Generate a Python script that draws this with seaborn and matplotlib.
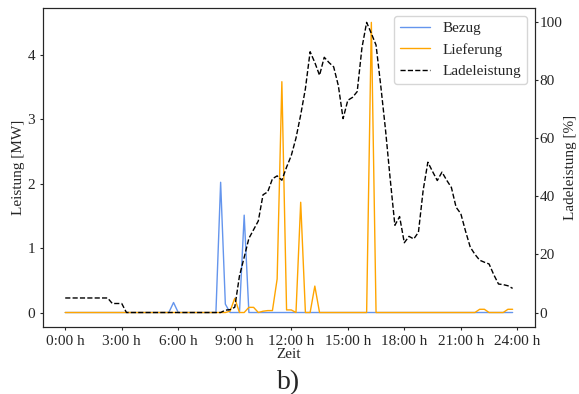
import numpy as np
import pandas as pd
import matplotlib
matplotlib.use("Agg")
import matplotlib.pyplot as plt
import seaborn as sns

# 15-min steps over one day (0:00 .. 23:45)
stunden = np.arange(96) * 0.25

# Bezug [MW]
bezug = [0.0] * 96
bezug[23] = 0.155
bezug[33] = 2.02
bezug[34] = 0.13
bezug[38] = 1.51

# Lieferung [MW]
lieferung = [0.0] * 96
lieferung_spitzen = {35: 0.02, 36: 0.22, 39: 0.08, 40: 0.08, 42: 0.02, 43: 0.03,
                     44: 0.03, 45: 0.52, 46: 3.58, 47: 0.04, 48: 0.04, 50: 1.71,
                     53: 0.41, 65: 4.5, 88: 0.05, 89: 0.05, 94: 0.05, 95: 0.05}
for k, v in lieferung_spitzen.items():
    lieferung[k] = v

# Ladeleistung [%]
ladeleistung = ([5.0] * 10 + [3.1, 3.1, 3.1] + [0.0] * 21 +
                [0.8, 1.0, 1.8, 12.6, 19.0, 25.5, 28.5, 31.5, 40.5, 41.5,
                 46.0, 47.0, 45.5, 50.0, 54.0, 60.0, 68.0, 77.0, 89.7, 86.0,
                 81.6, 87.8, 86.0, 84.5, 78.0, 66.7, 73.0, 74.0, 76.0, 91.0,
                 99.8, 96.0, 92.0, 78.0, 63.0, 46.0, 30.0, 33.0, 24.0, 26.2,
                 25.3, 27.6, 42.0, 51.7, 48.5, 45.4, 48.3, 45.5, 43.0, 36.2,
                 34.0, 28.0, 22.5, 20.0, 18.0, 17.3, 16.7, 13.0, 9.8, 9.6,
                 9.2, 8.3])

tick_stunden = list(range(0, 25, 3))
tick_labels = ["%d:00 h" % h for h in tick_stunden]

df = pd.DataFrame({"Zeit": stunden, "Bezug": bezug, "Lieferung": lieferung,
                   "Ladeleistung": ladeleistung})

sns.set_style("ticks")
plt.rcParams['font.family'] = ['Liberation Serif', 'DejaVu Serif']
font_size = 11

fig, ax = plt.subplots(figsize=(5.79, 3.94), dpi=100)
fig.subplots_adjust(left=0.074, right=0.924, top=0.980, bottom=0.170)

sns.lineplot(data=df, x="Zeit", y="Bezug", ax=ax, color="cornflowerblue",
             lw=1.0, label="Bezug", legend=False)
sns.lineplot(data=df, x="Zeit", y="Lieferung", ax=ax, color="orange",
             lw=1.0, label="Lieferung", legend=False)
ax.set_ylabel("Leistung [MW]", fontsize=font_size, labelpad=2)
ax.set_xlabel("Zeit", fontsize=font_size, labelpad=0)
ax.set_xticks(tick_stunden)
ax.set_xticklabels(tick_labels, fontsize=font_size)
ax.set_yticks([0, 1, 2, 3, 4])
ax.tick_params(labelsize=font_size, pad=3, length=2.5)

ax2 = ax.twinx()
sns.lineplot(data=df, x="Zeit", y="Ladeleistung", ax=ax2, color="black",
             lw=1.0, linestyle="--", label="Ladeleistung", legend=False)
ax2.set_ylabel("Ladeleistung [%]", fontsize=font_size, labelpad=1)
ax2.set_yticks([0, 20, 40, 60, 80, 100])
ax2.tick_params(labelsize=font_size, pad=1, length=2.5)

h1, l1 = ax.get_legend_handles_labels()
h2, l2 = ax2.get_legend_handles_labels()
ax2.legend(h1 + h2, l1 + l2, loc="upper right", fontsize=font_size,
           frameon=True)

fig.text(0.5 * (0.074 + 0.924), 0.03, "b)", ha="center", va="center",
         fontsize=20)

fig.savefig("out.png", dpi=100)
